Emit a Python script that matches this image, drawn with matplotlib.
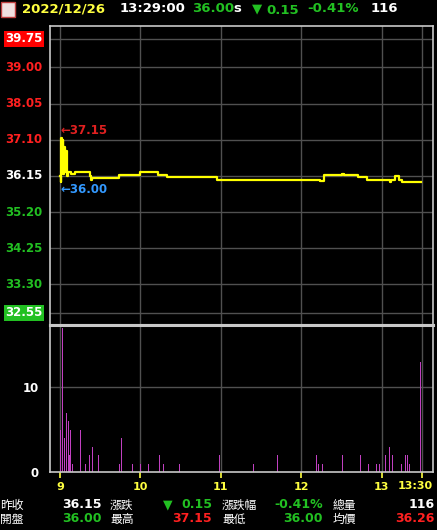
import matplotlib
matplotlib.use("Agg")
import matplotlib.pyplot as plt

plt.rcParams['font.family'] = ['DejaVu Sans', 'Noto Sans CJK TC']

# minutes after 09:00 -> price (step)
price_t = [0, 0.5, 1, 1.5, 2, 2.5, 3, 3.5, 4, 5, 6, 8, 11, 14, 22, 23, 24, 44, 60, 73, 80, 117, 191, 194, 197, 210, 212, 222, 229, 246, 247, 250, 253, 255, 269]
price_v = [36.15, 36.00, 37.15, 36.30, 37.10, 36.20, 36.90, 36.25, 36.80, 36.15, 36.25, 36.20, 36.25, 36.25, 36.15, 36.05, 36.10, 36.18, 36.24, 36.18, 36.12, 36.05, 36.05, 36.02, 36.18, 36.21, 36.18, 36.12, 36.05, 36.00, 36.05, 36.15, 36.05, 36.00, 36.00]
vol_t = [0.5, 2, 3, 5, 6, 7, 8, 9, 15, 19, 22, 24, 29, 44, 46, 54, 60, 66, 74, 77, 85, 89, 119, 144, 162,
         191, 193, 196, 211, 224, 226, 230, 236, 238, 243, 246, 248, 255, 258, 259, 261, 269]
vol_v = [5, 17, 4, 7, 6, 2, 5, 1, 5, 1, 2, 3, 2, 1, 4, 1, 1, 1, 2, 1, 1, 1, 2, 1, 2,
         2, 1, 1, 2, 2, 1, 1, 1, 1, 2, 3, 2, 1, 2, 2, 1, 13]
y_ticks = [39.75, 39.00, 38.05, 37.10, 36.15, 35.20, 34.25, 33.30, 32.55]
x_ticks = [0, 60, 120, 180, 240, 270]
x_labels = ['9', '10', '11', '12', '13', '13:30']

RED, GREEN, WHITE, YEL = '#ff2020', '#22c022', '#ffffff', '#ffff40'
fig = plt.figure(figsize=(4.37, 5.30), dpi=100, facecolor='black')
axp = fig.add_axes([50/437, 1-325/530, 383/437, 299/530], facecolor='black')
axv = fig.add_axes([50/437, 1-472/530, 383/437, 147/530], facecolor='black')
xl = (-7.5, 278.2)
for ax in (axp, axv):
    ax.set_xlim(*xl)
    for s in ax.spines.values():
        s.set_color('#c8c8c8'); s.set_linewidth(1.2)
    for t in x_ticks:
        ax.axvline(t, color='#505050', lw=1, zorder=0)
axp.spines['bottom'].set_linewidth(2.2)
axv.spines['top'].set_linewidth(2.2)

axp.set_ylim(32.23, 40.09)
axp.step(price_t, price_v, where='post', color='#ffff00', lw=1.6)
for y in y_ticks:
    axp.axhline(y, color='#505050', lw=1, zorder=0)
axp.set_xticks([]); axp.set_yticks([])
bold = dict(fontsize=8.5, fontweight='bold')
for y in y_ticks:
    tr = axp.get_yaxis_transform()
    if y == 39.75:
        axp.text(-0.02, y, f'{y:.2f}', transform=tr, ha='right', va='center', color='white',
                 bbox=dict(facecolor='#ff0000', edgecolor='none', pad=1), **bold)
    elif y == 32.55:
        axp.text(-0.02, y, f'{y:.2f}', transform=tr, ha='right', va='center', color='white',
                 bbox=dict(facecolor='#22c022', edgecolor='none', pad=1), **bold)
    else:
        c = RED if y > 36.15 else (WHITE if y == 36.15 else GREEN)
        axp.text(-0.02, y, f'{y:.2f}', transform=tr, ha='right', va='center', color=c, **bold)
axp.text(0.5, 37.15 + 0.02, '←37.15', color='#e02020', ha='left', va='bottom', **bold)
axp.text(0.5, 36.00 - 0.05, '←36.00', color='#3399ff', ha='left', va='top', **bold)

axv.set_ylim(0, 17.3)
axv.bar(vol_t, vol_v, width=0.7, color='#c040c0')
axv.axhline(10, color='#505050', lw=1, zorder=0)
axv.set_yticks([0, 10]); axv.set_yticklabels(['0', '10'])
axv.tick_params(axis='y', colors='white', length=0, labelsize=8.5, pad=8)
for l in axv.get_yticklabels(): l.set_fontweight('bold')
axv.set_xticks(x_ticks); axv.set_xticklabels(x_labels[:-1] + [''])
axv.tick_params(axis='x', colors=YEL, labelcolor=YEL, labelsize=8, length=4, width=1.2, pad=3)
for l in axv.get_xticklabels(): l.set_fontweight('bold')
fig.text(433/437, 1-486/530, x_labels[-1], color=YEL, fontsize=8, fontweight='bold', ha='right', va='center')

# header
fs = 9.5
def T(x, y, s, c, ha='left', **kw):
    fig.text(x/437, 1-y/530, s, color=c, ha=ha, va='center', fontsize=kw.pop('fs', fs), fontweight='bold', **kw)
fig.patches.append(plt.Rectangle((1/437, 1-17/530), 14/437, 15/530, transform=fig.transFigure, facecolor='#f0e0e0', edgecolor='#c04040'))
T(22, 9, '2022/12/26', '#ffff40')
T(120, 9, '13:29:00', WHITE)
T(192, 9, '36.00', GREEN)
T(233, 9, 's', WHITE)
T(252, 9, '▼', GREEN)
T(266, 10, '0.15', GREEN)
T(307, 9, '-0.41%', GREEN)
T(371, 9, '116', WHITE)

# footer table
cj = ['Noto Sans CJK TC', 'DejaVu Sans']
def C(x, y, s):
    fig.text(x/437, 1-y/530, s, color=WHITE, ha='left', va='center', fontsize=8.5, family=cj)
fs2 = 9
y1, y2 = 505, 519
C(0, y1, '昨收'); C(0, y2, '開盤')
T(102, y1, '36.15', WHITE, ha='right', fs=fs2); T(102, y2, '36.00', GREEN, ha='right', fs=fs2)
C(110, y1, '漲跌'); C(110, y2, '最高')
T(163, y1, '▼', GREEN, fs=fs2); T(212, y1, '0.15', GREEN, ha='right', fs=fs2)
T(212, y2, '37.15', RED, ha='right', fs=fs2)
C(222, y1, '漲跌幅'); C(222, y2, '最低')
T(323, y1, '-0.41%', GREEN, ha='right', fs=fs2); T(323, y2, '36.00', GREEN, ha='right', fs=fs2)
C(333, y1, '總量'); C(333, y2, '均價')
T(435, y1, '116', WHITE, ha='right', fs=fs2); T(435, y2, '36.26', RED, ha='right', fs=fs2)

fig.savefig('out.png', dpi=100, facecolor='black')
